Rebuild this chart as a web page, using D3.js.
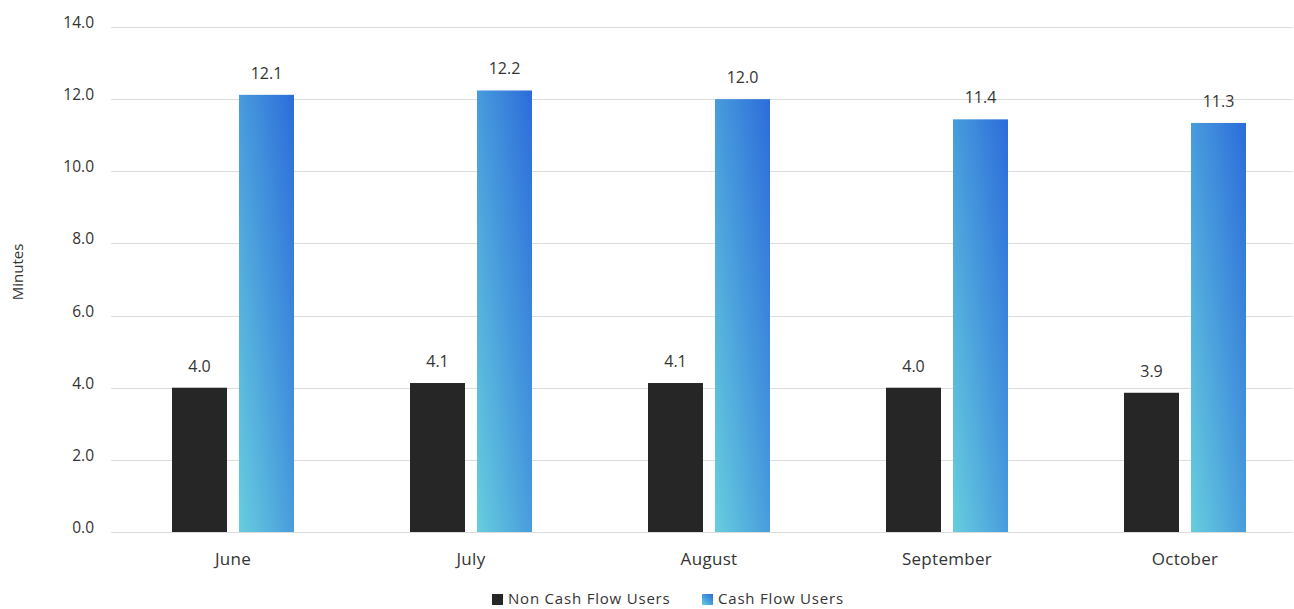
<!DOCTYPE html>
<html><head><meta charset="utf-8">
<script src="https://cdn.jsdelivr.net/npm/d3@7/dist/d3.min.js"></script>
<style>body{margin:0;background:#fff}svg{display:block}text{font-family:"Open Sans",sans-serif}</style>
</head><body><svg id="c" width="1294" height="609"></svg>
<script>
const categories = ["June","July","August","September","October"];
const nonCashFlowUsers = [4.0, 4.13, 4.13, 4.0, 3.86];
const cashFlowUsers = [12.12, 12.24, 12.0, 11.44, 11.34];
const seriesNames = ["Non Cash Flow Users","Cash Flow Users"];
const yTicks = [0,2,4,6,8,10,12,14];

const FONT = '"Open Sans",sans-serif';
const svg = d3.select("#c");
const defs = svg.append("defs");
const g = defs.append("linearGradient").attr("id","blueGrad").attr("x1","0").attr("y1","1").attr("x2","1").attr("y2","0");
g.append("stop").attr("offset","0%").attr("stop-color","#67cede");
g.append("stop").attr("offset","55%").attr("stop-color","#4597dc");
g.append("stop").attr("offset","100%").attr("stop-color","#2c6cda");

const y = d3.scaleLinear().domain([0,14]).range([532,27]);
const x = d3.scaleBand().domain(categories).range([114,1304]);
const gridL = 111, gridR = 1293;

svg.append("g").selectAll("line").data(yTicks).join("line")
  .attr("x1",gridL).attr("x2",gridR).attr("y1",d=>Math.round(y(d))+0.5).attr("y2",d=>Math.round(y(d))+0.5)
  .attr("stroke","#dcdcdc").attr("stroke-width",1);

const yAxis = d3.axisLeft(y).tickValues(yTicks).tickFormat(d3.format(".1f")).tickSize(0).tickPadding(0);
const ya = svg.append("g").attr("transform","translate(94,-5)").call(yAxis);
ya.select(".domain").remove();
ya.selectAll("text").attr("font-size",15.5).attr("fill","#333").attr("dy","0.35em").style("font-family",FONT);

const xAxis = d3.axisBottom(x).tickSize(0).tickPadding(0);
const xa = svg.append("g").attr("transform","translate(0,553)").call(xAxis);
xa.select(".domain").remove();
xa.selectAll("text").attr("font-size",17).attr("fill","#333").style("letter-spacing","0.3px").style("font-family",FONT);

svg.append("text").attr("transform","translate(23,272) rotate(-90)").attr("text-anchor","middle")
  .attr("font-size",15).attr("fill","#333").text("Minutes");

const bw = 55, gap = 12;
const fmt = d3.format(".1f");
const series = [
  {vals: nonCashFlowUsers, fill:"#262626", off: -(bw+gap/2)},
  {vals: cashFlowUsers, fill:"url(#blueGrad)", off: gap/2}
];
series.forEach(s=>{
  const grp = svg.append("g");
  grp.selectAll("rect").data(categories).join("rect")
    .attr("x",(c)=>x(c)+x.bandwidth()/2+s.off)
    .attr("y",(c,i)=>y(s.vals[i]))
    .attr("width",bw)
    .attr("height",(c,i)=>y(0)-y(s.vals[i]))
    .attr("fill",s.fill);
  grp.selectAll("text").data(categories).join("text")
    .attr("x",(c)=>x(c)+x.bandwidth()/2+s.off+bw/2)
    .attr("y",(c,i)=>y(s.vals[i])-16)
    .attr("text-anchor","middle").attr("font-size",16).attr("fill","#333")
    .text((c,i)=>fmt(s.vals[i]));
});

const leg = svg.append("g");
const legX = [492, 702];
seriesNames.forEach((n,i)=>{
  leg.append("rect").attr("x",legX[i]).attr("y",594).attr("width",11).attr("height",11)
    .attr("fill", i===0 ? "#262626" : "url(#blueGrad)");
  leg.append("text").attr("x",legX[i]+16).attr("y",604).attr("font-size",15)
    .style("letter-spacing","0.8px").attr("fill","#333").text(n);
});
</script></body></html>
